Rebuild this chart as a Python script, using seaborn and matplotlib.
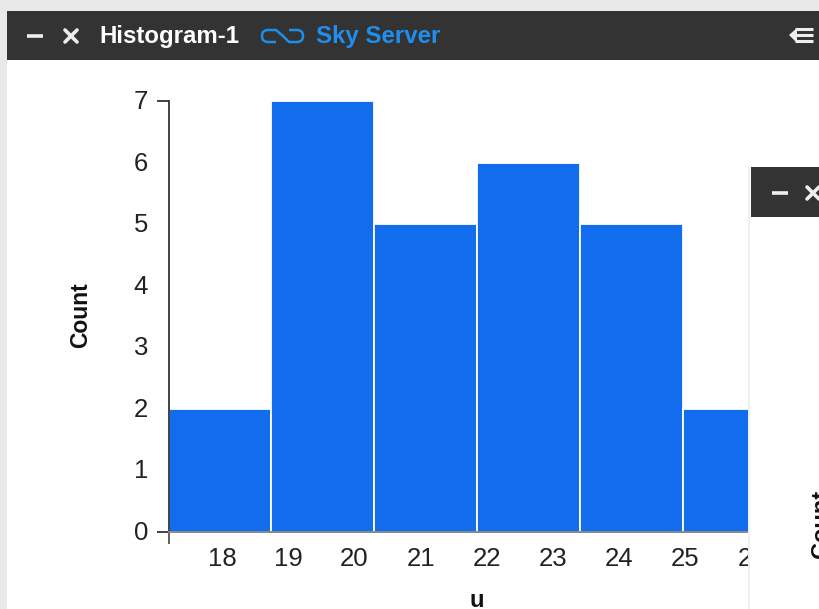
import matplotlib
matplotlib.use("Agg")
import matplotlib.pyplot as plt
import seaborn as sns
from matplotlib.patches import Rectangle, FancyBboxPatch, Polygon
from matplotlib.transforms import ScaledTranslation

bin_edges = [17.2, 18.74, 20.295, 21.85, 23.405, 24.96, 26.515]
bin_centers = [17.97, 19.52, 21.07, 22.63, 24.18, 25.74]
counts = [2, 7, 5, 6, 5, 2]
x_ticks = [18, 19, 20, 21, 22, 23, 24, 25, 26]
y_ticks = [0, 1, 2, 3, 4, 5, 6, 7]
x_label = "u"
y_label = "Count"
title = "Histogram-1"
source = "Sky Server"

W, H = 820, 609
BLUE = "#126cee"
DARK = "#333333"

sns.set_theme(style="white")
plt.rcParams["font.family"] = ["Liberation Sans", "DejaVu Sans"]

fig = plt.figure(figsize=(W / 100, H / 100), dpi=100, facecolor="white")
L, R, T, B = 169, 820, 101, 532
ax = fig.add_axes([L / W, 1 - B / H, (R - L) / W, (B - T) / H])

sns.histplot(x=bin_centers, weights=counts, bins=bin_edges, color=BLUE, alpha=1,
             edgecolor="white", linewidth=1.3, ax=ax)
for bar in ax.patches:
    bar.set_clip_on(False)
ax.set_xlim(17.2, 27.03)
ax.set_ylim(0, 7)
ax.set_xticks(x_ticks)
ax.set_yticks(y_ticks)
ax.xaxis.remove_overlapping_locs = False
ax.yaxis.remove_overlapping_locs = False
ax.tick_params(axis="x", length=0, pad=11, labelsize=18.5, labelcolor="#222222")
ax.tick_params(axis="y", length=0, pad=15, labelsize=18.5, labelcolor="#222222")
ax.set_yticks([0, 7], minor=True)
ax.set_xticks([17.2], minor=True)
ax.tick_params(axis="y", which="minor", left=True, length=8.5, width=1.2, color="#222222")
ax.tick_params(axis="x", which="minor", bottom=True, length=8.5, width=1.2, color="#444444")
ax.set_xlabel(x_label, fontsize=17, fontweight="bold", color="#111111")
ax.set_ylabel(y_label, fontsize=16.5, fontweight="bold", color="#111111")
ax.xaxis.set_label_coords((477 - L) / (R - L), -0.133, transform=ax.transAxes)
ax.yaxis.set_label_coords((92 - L) / (R - L), (B - 315) / (B - T), transform=ax.transAxes)
nudge = ScaledTranslation(0, 1.5 / 100, fig.dpi_scale_trans)
for lab in ax.get_yticklabels():
    lab.set_transform(lab.get_transform() + nudge)
for s in ["top", "right"]:
    ax.spines[s].set_visible(False)
ax.spines["left"].set_color("#222222")
ax.spines["left"].set_linewidth(1.2)
ax.spines["bottom"].set_color("#888888")
ax.spines["bottom"].set_linewidth(1.4)

# window chrome, in pixel coordinates on a transparent overlay
ov = fig.add_axes([0, 0, 1, 1], zorder=5)
ov.patch.set_alpha(0)
ov.axis("off")

ov.add_patch(Rectangle((0, 0), W, 11, fc="#e9e9e9", ec="none"))
ov.add_patch(Rectangle((0, 0), 7, H, fc="#e9e9e9", ec="none"))
ov.add_patch(Rectangle((7, 11), W - 7, 49, fc=DARK, ec="none"))


def minus_x(xm, xx, y):
    ov.plot([xm - 8, xm + 8], [y, y], color="#eeeeee", lw=2.6, solid_capstyle="butt")
    ov.plot([xx - 6, xx + 6], [y - 6, y + 6], color="#eeeeee", lw=2.6)
    ov.plot([xx - 6, xx + 6], [y + 6, y - 6], color="#eeeeee", lw=2.6)


minus_x(35, 71, 36)
ov.text(99, 36, title, color="white", fontsize=17.3, fontweight="bold", va="center", ha="left")
LINK = "#1e8eef"
ov.add_patch(FancyBboxPatch((262, 30), 20, 12, boxstyle="round,pad=0,rounding_size=6",
                            fc="none", ec=LINK, lw=1.8))
ov.add_patch(FancyBboxPatch((283, 30), 20, 12, boxstyle="round,pad=0,rounding_size=6",
                            fc="none", ec=LINK, lw=1.8))
ov.add_patch(Rectangle((276, 28), 13, 16, fc=DARK, ec="none"))
ov.plot([276, 283, 289], [30, 36, 42], color=LINK, lw=1.8)
ov.text(316, 36, source, color=LINK, fontsize=17.3, fontweight="bold", va="center", ha="left")

# collapse icon at the right of the header
ov.add_patch(Polygon([[789, 35], [797, 28], [797, 43]], fc="#eeeeee", ec="none"))
for yy in (29, 35, 41):
    ov.plot([795, 813], [yy, yy], color="#eeeeee", lw=2.2, solid_capstyle="butt")

# second window overlapping the first
ov.add_patch(Rectangle((748, 167), W - 748, H - 167, fc="#f0f0f0", ec="none"))
ov.add_patch(Rectangle((750, 167), W - 750, H - 167, fc="white", ec="none"))
ov.add_patch(Rectangle((751, 167), W - 751, 50, fc=DARK, ec="none"))
minus_x(780, 813, 193)
ov.text(822, 524, "Count", color="#111111", fontsize=17, fontweight="bold",
        rotation=90, va="center", ha="center")
ov.set_xlim(0, W)
ov.set_ylim(H, 0)

fig.savefig("out.png", dpi=100)
